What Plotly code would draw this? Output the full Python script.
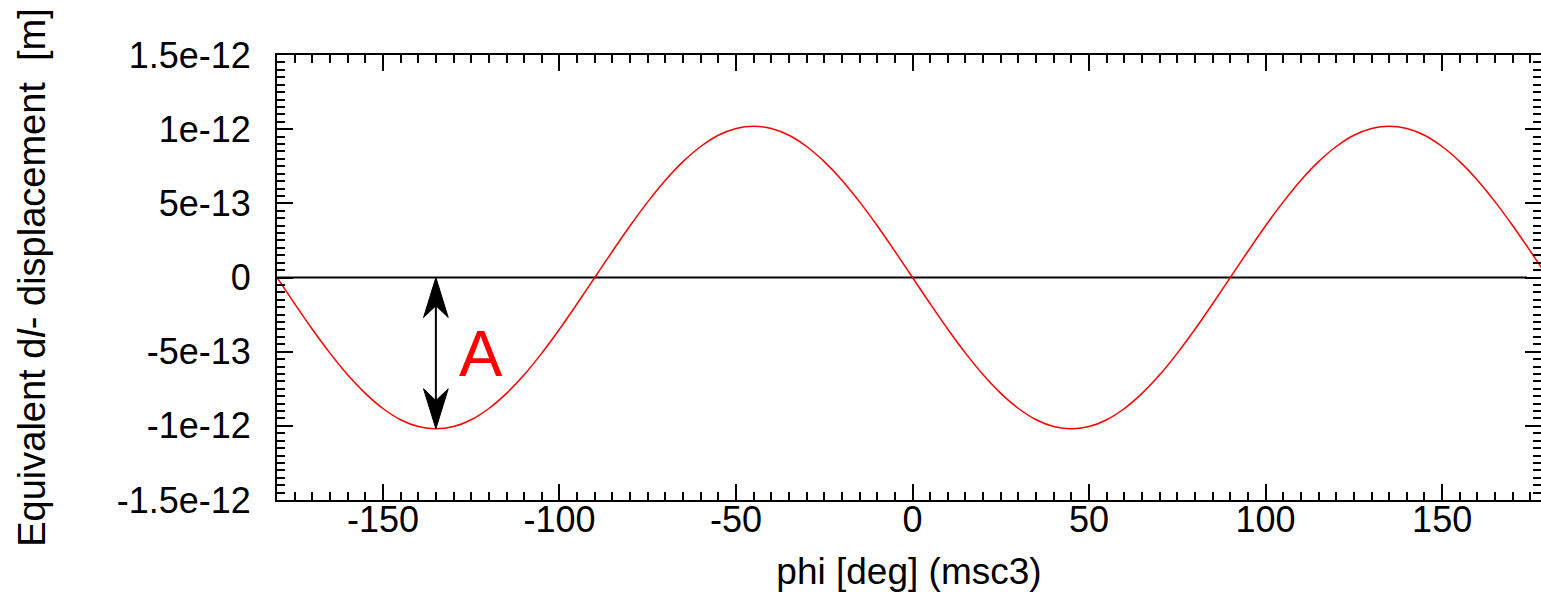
import plotly.graph_objects as go

# phi [deg], read every 5 deg
phi = [-180, -175, -170, -165, -160, -155, -150, -145, -140, -135, -130, -125, -120, -115, -110, -105,
       -100, -95, -90, -85, -80, -75, -70, -65, -60, -55, -50, -45, -40, -35, -30, -25, -20, -15, -10, -5,
       0, 5, 10, 15, 20, 25, 30, 35, 40, 45, 50, 55, 60, 65, 70, 75, 80, 85, 90, 95, 100, 105, 110, 115,
       120, 125, 130, 135, 140, 145, 150, 155, 160, 165, 170, 175, 180]
# displacement in units of 1e-12 m
disp = [0.0, -0.177, -0.349, -0.51, -0.656, -0.781, -0.883, -0.959, -1.005, -1.02, -1.005, -0.959, -0.883, -0.781, -0.656, -0.51,
        -0.349, -0.177, 0.0, 0.177, 0.349, 0.51, 0.656, 0.781, 0.883, 0.959, 1.005, 1.02, 1.005, 0.959, 0.883, 0.781, 0.656, 0.51, 0.349, 0.177,
        0.0, -0.177, -0.349, -0.51, -0.656, -0.781, -0.883, -0.959, -1.005, -1.02, -1.005, -0.959, -0.883, -0.781, -0.656, -0.51, -0.349, -0.177, 0.0, 0.177, 0.349, 0.51, 0.656, 0.781,
        0.883, 0.959, 1.005, 1.02, 1.005, 0.959, 0.883, 0.781, 0.656, 0.51, 0.349, 0.177, 0.0]

zero_x = [-180, 174]
zero_y = [0, 0]

y_tickvals = [-1.5, -1.0, -0.5, 0.0, 0.5, 1.0, 1.5]
y_ticktext = ["-1.5e-12", "-1e-12", "-5e-13", "0", "5e-13", "1e-12", "1.5e-12"]
x_tickvals = [-150, -100, -50, 0, 50, 100, 150]
x_ticktext = ["-150", "-100", "-50", "0", "50", "100", "150"]

# arrow "A" marking the amplitude
arrow_x = -135
arrow_top = 0.0
arrow_bottom = -1.02
label_x = -122.2
label_y = -0.51

FONT = "Liberation Sans, Arial, sans-serif"

fig = go.Figure()
fig.add_trace(go.Scatter(x=zero_x, y=zero_y, mode="lines",
                         line=dict(color="black", width=2), showlegend=False, hoverinfo="skip"))
fig.add_trace(go.Scatter(x=phi, y=disp, mode="lines", line_shape="spline",
                         line=dict(color="#ff0000", width=1.5), showlegend=False))

# arrow shaft
fig.add_shape(type="line", x0=arrow_x, x1=arrow_x, y0=arrow_top - 0.15, y1=arrow_bottom + 0.15,
              line=dict(color="black", width=2), xref="x", yref="y")
# arrow heads
hw = 3.5   # half width in deg
hl = 0.27  # head length
nd = 0.19  # notch position
top_path = (f"M{arrow_x},{arrow_top} L{arrow_x - hw},{arrow_top - hl} L{arrow_x},{arrow_top - nd} "
            f"L{arrow_x + hw},{arrow_top - hl} Z")
bot_path = (f"M{arrow_x},{arrow_bottom} L{arrow_x - hw},{arrow_bottom + hl} L{arrow_x},{arrow_bottom + nd} "
            f"L{arrow_x + hw},{arrow_bottom + hl} Z")
for p in (top_path, bot_path):
    fig.add_shape(type="path", path=p, fillcolor="black", line=dict(color="black", width=1),
                  xref="x", yref="y")

fig.add_annotation(x=label_x, y=label_y, text="A", showarrow=False,
                   font=dict(family=FONT, size=65, color="#ff0000"), xanchor="center", yanchor="middle")

fig.update_layout(
    width=1541, height=592,
    margin=dict(l=277, r=0, t=55, b=92, autoexpand=False),
    paper_bgcolor="white", plot_bgcolor="white",
    font=dict(family=FONT, size=36, color="black"),
)
fig.update_xaxes(
    range=[-180, 178], tickvals=x_tickvals, ticktext=x_ticktext,
    ticks="inside", ticklen=16, tickwidth=1.5, tickcolor="black",
    minor=dict(dtick=5, tick0=0, ticks="inside", ticklen=8, tickwidth=1.5, tickcolor="black"),
    showline=True, linecolor="black", linewidth=2, mirror="allticks",
    showgrid=False, zeroline=False, automargin=False,
    tickfont=dict(size=36), ticklabelstandoff=-13,
    title=dict(text="phi [deg] (msc3)", font=dict(size=37), standoff=19),
)
fig.update_yaxes(
    range=[-1.5, 1.5], tickvals=y_tickvals, ticktext=y_ticktext,
    ticks="inside", ticklen=16, tickwidth=1.5, tickcolor="black",
    minor=dict(dtick=0.05, tick0=0, ticks="inside", ticklen=8, tickwidth=1.5, tickcolor="black"),
    showline=True, linecolor="black", linewidth=2, mirror="allticks",
    showgrid=False, zeroline=False, automargin=False,
    tickfont=dict(size=36), ticklabelstandoff=17,
    title=dict(text="Equivalent d<i>l</i>- displacement  [m]", font=dict(size=38), standoff=59),
)

fig.write_html(
    "out.html",
    config={"displayModeBar": False},
    post_script="document.body.style.margin='0';document.body.style.overflow='hidden';",
)
